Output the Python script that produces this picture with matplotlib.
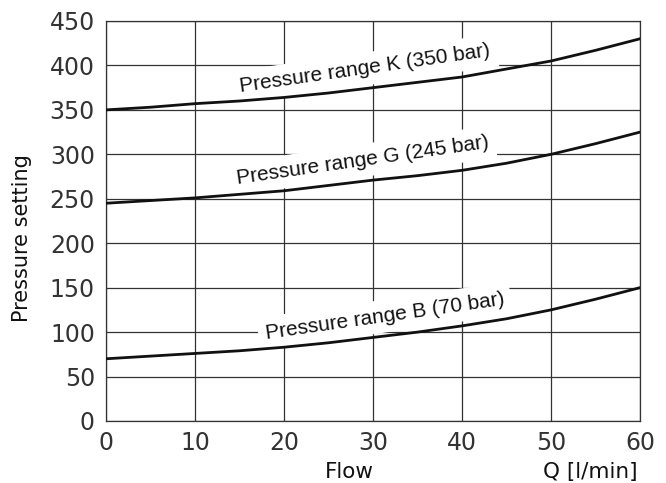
import numpy as np
import matplotlib.pyplot as plt

# flow values [l/min] and pressure setting curves
flow = [0, 5, 10, 15, 20, 25, 30, 35, 40, 45, 50, 55, 60]
range_k = [350, 353, 357, 360, 364, 369, 375, 381, 387, 396, 405, 417, 430]
range_g = [245, 248, 251, 255, 259, 265, 271, 276, 282, 290, 300, 312, 325]
range_b = [70, 73, 76, 79, 83, 88, 94, 100, 107, 115, 125, 137, 150]

labels = ["Pressure range K (350 bar)", "Pressure range G (245 bar)", "Pressure range B (70 bar)"]
label_pos = [(29.1, 396), (28.8, 293), (31.3, 118)]

x_ticks = [0, 10, 20, 30, 40, 50, 60]
y_ticks = [0, 50, 100, 150, 200, 250, 300, 350, 400, 450]

fig = plt.figure(figsize=(6.66, 4.83), dpi=100)
ax = fig.add_axes([106 / 666, 1 - 421 / 483, 534 / 666, 400 / 483])

for curve in (range_k, range_g, range_b):
    ax.plot(flow, curve, color="#111111", lw=2.0, zorder=4)

for text, (tx, ty) in zip(labels, label_pos):
    ax.text(tx, ty, text, rotation=8.2, ha="center", va="center",
            fontsize=15, family="Liberation Sans", color="#111111", zorder=3,
            bbox=dict(facecolor="white", edgecolor="none", pad=5))

ax.set_xlim(0, 60)
ax.set_ylim(0, 450)
ax.set_xticks(x_ticks)
ax.set_yticks(y_ticks)
ax.set_axisbelow(True)
ax.grid(True, color="#333333", lw=0.9)
ax.tick_params(axis="x", length=0, labelsize=17, pad=7, colors="#333333")
ax.tick_params(axis="y", length=0, labelsize=17, pad=8, colors="#333333")
for sp in ax.spines.values():
    sp.set_color("#333333")
    sp.set_linewidth(0.9)

fig.text(22 / 666, 1 - 238 / 483, "Pressure setting", fontsize=15, rotation=90,
         ha="center", va="center", color="#111111")
fig.text(349 / 666, 1 - 472 / 483, "Flow", fontsize=15.5, ha="center", va="center", color="#111111")
fig.text(590 / 666, 1 - 472 / 483, "Q [l/min]", fontsize=15.5, ha="center", va="center", color="#111111")

plt.savefig("out.png", dpi=100)
